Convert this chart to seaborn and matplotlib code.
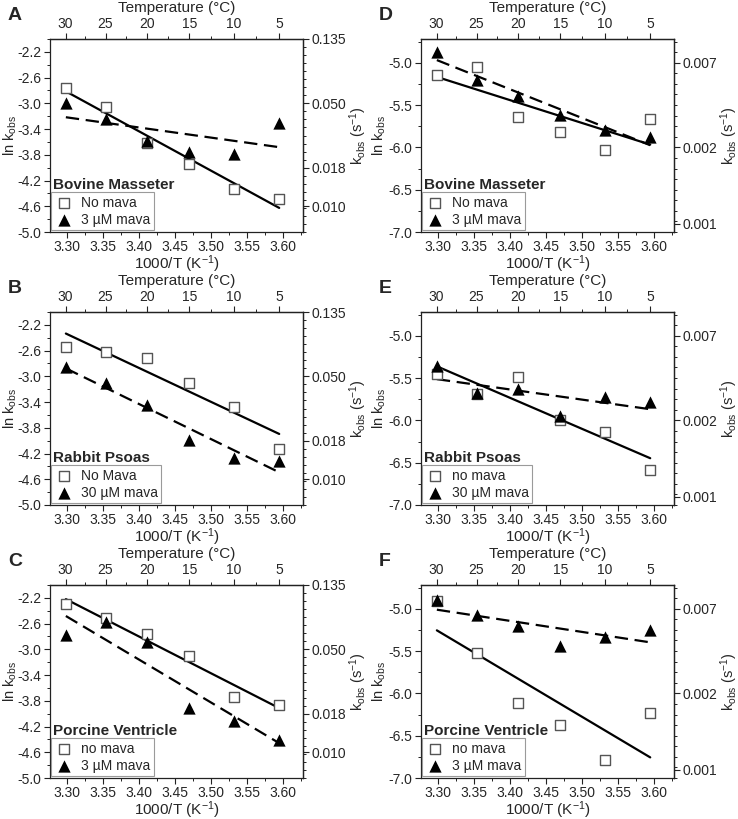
import numpy as np
import pandas as pd
import seaborn as sns
import matplotlib.pyplot as plt
from matplotlib.ticker import MultipleLocator, FormatStrFormatter, FixedLocator

sns.set_style("ticks")
plt.rcParams['font.family'] = ['Liberation Sans', 'DejaVu Sans']
plt.rcParams['axes.unicode_minus'] = False
plt.rcParams['mathtext.default'] = 'regular'

# x positions: 1000/T for 30, 25, 20, 15, 10, 5 C
inv_T = [3.299, 3.354, 3.411, 3.470, 3.532, 3.595]
temp_ticks = [30, 25, 20, 15, 10, 5]
temp_minor = [27.5, 22.5, 17.5, 12.5, 7.5]

# ln kobs
A_none = [-2.76, -3.06, -3.62, -3.94, -4.33, -4.48]
A_mava = [-2.99, -3.24, -3.58, -3.76, -3.79, -3.30]
B_none = [-2.55, -2.62, -2.71, -3.10, -3.47, -4.13]
B_mava = [-2.86, -3.10, -3.45, -3.99, -4.27, -4.32]
C_none = [-2.30, -2.51, -2.76, -3.11, -3.74, -3.86]
C_mava = [-2.78, -2.58, -2.88, -3.91, -4.12, -4.41]
D_none = [-5.15, -5.05, -5.64, -5.82, -6.03, -5.66]
D_mava = [-4.87, -5.20, -5.39, -5.62, -5.80, -5.88]
E_none = [-5.45, -5.69, -5.49, -5.99, -6.14, -6.59]
E_mava = [-5.36, -5.68, -5.63, -5.95, -5.72, -5.78]
F_none = [-4.91, -5.52, -6.11, -6.37, -6.79, -6.23]
F_mava = [-4.90, -5.07, -5.21, -5.44, -5.33, -5.25]

tissues = ["Bovine Masseter", "Rabbit Psoas", "Porcine Ventricle"]
none_labels = {"A": "No mava", "B": "No Mava", "C": "no mava",
               "D": "No mava", "E": "no mava", "F": "no mava"}
mava_labels = {"A": "3 µM mava", "B": "30 µM mava", "C": "3 µM mava",
               "D": "3 µM mava", "E": "30 µM mava", "F": "3 µM mava"}

# left-axis ranges and right-axis (k) tick positions in ln units
ylim_left = (-5.0, -2.0)
yticks_left = [-2.2, -2.6, -3.0, -3.4, -3.8, -4.2, -4.6, -5.0]
rticks_left = [-2.0, -3.0, -4.0, -4.6]
ylim_right = (-7.0, -4.72)
yticks_right = [-5.0, -5.5, -6.0, -6.5, -7.0]
rticks_right = [-5.0, -6.0, -6.9]

panels = [
    ("A", 0, 0, A_none, A_mava), ("B", 1, 0, B_none, B_mava), ("C", 2, 0, C_none, C_mava),
    ("D", 0, 1, D_none, D_mava), ("E", 1, 1, E_none, E_mava), ("F", 2, 1, F_none, F_mava),
]

W, H = 738, 819
fig = plt.figure(figsize=(W / 100, H / 100), dpi=100)
col_left = [50, 421]
row_top = [39, 312, 585]
aw, ah = 253, 193


def to_c(x):
    return 1000.0 / np.asarray(x, dtype=float) - 273.15


def to_inv(t):
    return 1000.0 / (np.asarray(t, dtype=float) + 273.15)


for letter, r, c, y_none, y_mava in panels:
    ax = fig.add_axes([col_left[c] / W, 1 - (row_top[r] + ah) / H, aw / W, ah / H])
    df = pd.DataFrame({"x": inv_T, "none": y_none, "mava": y_mava})

    sns.regplot(data=df, x="x", y="none", ax=ax, scatter=False, ci=None,
                line_kws=dict(color="black", lw=1.6))
    sns.regplot(data=df, x="x", y="mava", ax=ax, scatter=False, ci=None,
                line_kws=dict(color="black", lw=1.6, ls=(0, (6, 3))))
    sns.scatterplot(data=df, x="x", y="none", ax=ax, marker="s", s=50, color="white",
                    edgecolor="#555555", linewidth=1.0, label=none_labels[letter], zorder=3)
    sns.scatterplot(data=df, x="x", y="mava", ax=ax, marker="^", s=78, color="black",
                    linewidth=0, label=mava_labels[letter], zorder=4)

    ax.set_xlim(3.277, 3.628)
    ax.xaxis.set_major_locator(MultipleLocator(0.05))
    ax.xaxis.set_minor_locator(MultipleLocator(0.025))
    ax.xaxis.set_major_formatter(FormatStrFormatter("%.2f"))
    if c == 0:
        ax.set_ylim(*ylim_left)
        ax.set_yticks(yticks_left)
        ax.yaxis.set_minor_locator(MultipleLocator(0.2))
        rt = rticks_left
    else:
        ax.set_ylim(*ylim_right)
        ax.set_yticks(yticks_right)
        ax.yaxis.set_minor_locator(MultipleLocator(0.25))
        rt = rticks_right
    ax.yaxis.set_major_formatter(FormatStrFormatter("%.1f"))
    ax.set_xlabel("1000/T (K$^{-1}$)", fontsize=11, labelpad=-1)
    ax.set_ylabel("ln k$_{obs}$", fontsize=10.5)
    ax.yaxis.set_label_coords(-0.122 if c == 0 else -0.13, 0.5)

    # top axis in degrees C
    sec_x = ax.secondary_xaxis("top", functions=(to_c, to_inv))
    sec_x.set_xticks(temp_ticks)
    sec_x.xaxis.set_minor_locator(FixedLocator(temp_minor))
    sec_x.set_xlabel("Temperature (°C)", fontsize=11, labelpad=3)

    # right axis: kobs labels at ln positions
    sec_y = ax.secondary_yaxis("right", functions=(lambda v: v, lambda v: v))
    sec_y.set_yticks(rt)
    sec_y.set_yticklabels([f"{np.exp(v):.3f}" for v in rt])
    sec_y.yaxis.set_minor_locator(MultipleLocator(0.125))
    sec_y.set_ylabel("k$_{obs}$ (s$^{-1}$)", fontsize=10.5, labelpad=1)

    for a in (ax, sec_x, sec_y):
        a.tick_params(which="major", direction="out", length=4, width=0.8,
                      labelsize=10, color="#222222", pad=2)
        a.tick_params(which="minor", direction="out", length=2.5, width=0.7,
                      color="#222222")
        for sp in a.spines.values():
            sp.set_linewidth(0.9)
            sp.set_color("#222222")

    leg = ax.legend(loc="lower left", bbox_to_anchor=(0.004, 0.01), fontsize=10,
                    frameon=True, fancybox=False, framealpha=1, edgecolor="#9a9a9a",
                    borderpad=0.25, handletextpad=0.6, labelspacing=0.2,
                    borderaxespad=0.0, handlelength=1.3)
    leg.get_frame().set_linewidth(0.8)
    ax.text(0.01, 0.205, tissues[r], transform=ax.transAxes, fontsize=11,
            fontweight="bold", va="bottom", ha="left")

    fig.text((col_left[c] - 42) / W, 1 - (row_top[r] - 24) / H, letter,
             fontsize=14, fontweight="bold", va="center", ha="left")

fig.savefig("out.png", dpi=100)
